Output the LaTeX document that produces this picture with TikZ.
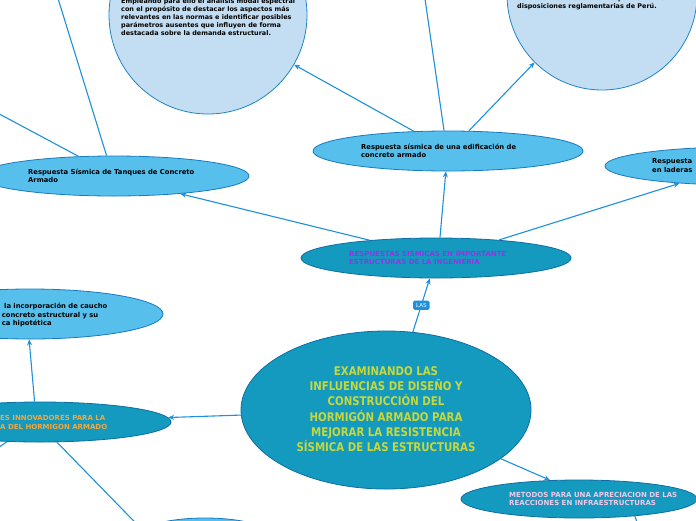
\documentclass[tikz,border=0pt]{standalone}
\usepackage{fontspec}
\setmainfont{DejaVu Sans}
\newfontfamily\condfont[FakeStretch=0.85]{DejaVu Sans}
\usetikzlibrary{shapes.geometric,arrows.meta}
\definecolor{tealf}{RGB}{20,153,191}
\definecolor{tealb}{RGB}{12,110,165}
\definecolor{lbf}{RGB}{86,191,236}
\definecolor{lbb}{RGB}{26,122,190}
\definecolor{cirf}{RGB}{195,222,242}
\definecolor{cirb}{RGB}{30,134,198}
\definecolor{arrc}{RGB}{30,144,220}
\definecolor{maintxt}{RGB}{198,216,58}
\definecolor{purp}{RGB}{157,47,232}
\definecolor{orng}{RGB}{242,168,62}
\definecolor{pnk}{RGB}{242,200,232}
\begin{document}
\begin{tikzpicture}[x=1pt,y=-1pt,
  tealnode/.style={ellipse, draw=tealb, fill=tealf, line width=0.8pt, inner sep=0pt},
  lbnode/.style={ellipse, draw=lbb, fill=lbf, line width=0.8pt, inner sep=0pt},
  circnode/.style={circle, draw=cirb, fill=cirf, line width=0.8pt, inner sep=0pt},
  arr/.style={draw=arrc, line width=1.1pt, -{Stealth[length=6pt,width=5pt]}},
  txt/.style={anchor=west, align=left, inner sep=0pt, font=\bfseries\fontsize{6.8}{8.2}\selectfont},
  captxt/.style={anchor=west, align=left, inner sep=0pt, font=\bfseries\fontsize{7}{8.4}\selectfont},
  lasbox/.style={fill=arrc, text=white, rounded corners=1.5pt, inner xsep=3pt, inner ysep=2.5pt, font=\fontsize{5.5}{6}\selectfont}
]
\useasboundingbox (0,0) rectangle (696,520);
\fill[white] (0,0) rectangle (696,520);
\clip (0,0) rectangle (696,520);

% nodes
\node[tealnode, minimum width=290pt, minimum height=158pt] (C) at (386,410) {};
\node[tealnode, minimum width=270pt, minimum height=40pt] (R) at (436,258) {};
\node[lbnode, minimum width=270pt, minimum height=40pt] (E) at (448,151) {};
\node[lbnode, minimum width=270pt, minimum height=40pt] (T) at (114,176) {};
\node[lbnode, minimum width=270pt, minimum height=38pt] (L) at (740,166) {};
\node[circnode, minimum size=198pt] (K1) at (208,15) {};
\node[circnode, minimum size=190pt] (K2) at (602,-5) {};
\node[lbnode, minimum width=266pt, minimum height=50pt] (U) at (30,314) {};
\node[tealnode, minimum width=262pt, minimum height=40pt] (I) at (40,422) {};
\node[tealnode, minimum width=236pt, minimum height=38pt] (M) at (579,499) {};
\node[lbnode, minimum width=140pt, minimum height=40pt] (B) at (205,538) {};

% off-page ends
\coordinate (eTop) at (424,-8);
\coordinate (tA) at (56,-8);
\coordinate (tB) at (-10,109);
\coordinate (iL) at (-10,453);
\coordinate (mB) at (640,532);

% texts
\node[anchor=center, align=center, inner sep=0pt, text=maintxt,
      font=\condfont\bfseries\fontsize{12}{15.3}\selectfont] (Ct) at (386,409)
  {EXAMINANDO LAS\\INFLUENCIAS DE DISEÑO Y\\CONSTRUCCIÓN DEL\\HORMIGÓN ARMADO PARA\\MEJORAR LA RESISTENCIA\\SÍSMICA DE LAS ESTRUCTURAS};
\node[captxt, text=purp] (Rt) at (349,258) {RESPUESTAS SISMICAS EN IMPORTANTE\\ESTRUCTURAS DE LA INGENIERIA};
\node[txt] (Et) at (361,151) {Respuesta sísmica de una edificación de\\concreto armado};
\node[txt] (Tt) at (28,176) {Respuesta Sísmica de Tanques de Concreto\\Armado};
\node[txt] (Lt) at (652,165.5) {Respuesta\\en laderas};
\node[txt] (Ut) at (1.7,315) {\hspace{2.3pt}la incorporación de caucho\\concreto estructural y su\\ca hipotética};
\node[captxt, text=orng] (It) at (0,422.5) {ES INNOVADORES PARA LA\\A DEL HORMIGON ARMADO};
\node[captxt, text=pnk] (Mt) at (509,499) {METODOS PARA UNA APRECIACION DE LAS\\REACCIONES EN INFRAESTRUCTURAS};
\node[anchor=west, align=left, inner sep=0pt, font=\bfseries\fontsize{6.45}{8}\selectfont] (K1t) at (121,17)
  {Empleando para ello el análisis modal espectral\\con el propósito de destacar los aspectos más\\relevantes en las normas e identificar posibles\\parámetros ausentes que influyen de forma\\destacada sobre la demanda estructural.};
\node[anchor=west, align=left, inner sep=0pt, font=\bfseries\fontsize{6.45}{8}\selectfont] (K2t) at (517,3)
  {condiciones de suelo corresponden a las\\disposiciones reglamentarias de Perú.};

% connectors
\draw[arr] (C.71) -- node[lasbox] {LAS} (R.253);
\draw[arr] (R.79) -- (E.264);
\draw[arr] (R.165) -- (T.345);
\draw[arr] (R.16) -- (L.196);
\draw[arr] (E.150) -- (K1.330);
\draw[arr] (E.44) -- (K2.225);
\draw[arr] (E.101) -- (eTop);
\draw[arr] (T.110) -- (tA);
\draw[arr] (T.151) -- (tB);
\draw[arr] (C.182) -- (I.2);
\draw[arr] (I.105) -- (U.268);
\draw[arr] (I.310) -- (B.172);
\draw[arr] (I.211) -- (iL);
\draw[arr] (C.337) -- (M.147);
\draw[arr] (M.343) -- (mB);
\end{tikzpicture}
\end{document}
